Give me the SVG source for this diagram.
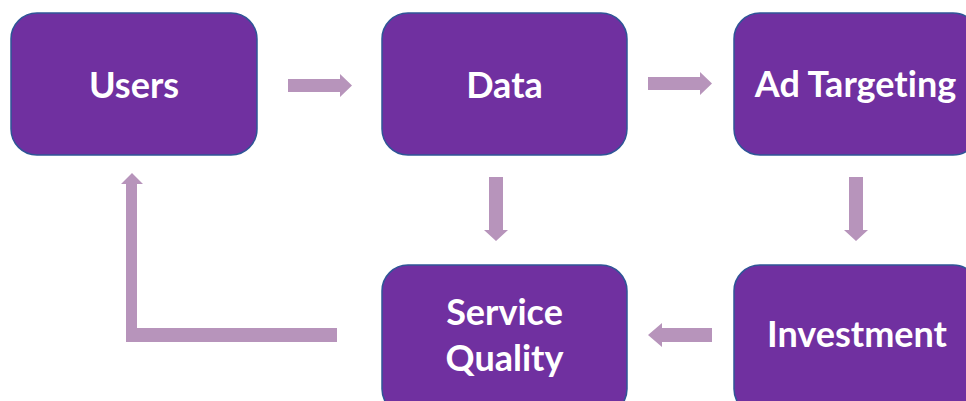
<svg xmlns="http://www.w3.org/2000/svg" width="966" height="401" viewBox="0 0 966 401">
<style>
.box{fill:#7030A0;stroke:#2F5597;stroke-width:1.5}
.lbl{fill:#FFFFFF;font-family:"Lato","Open Sans","Liberation Sans",sans-serif;font-weight:bold;font-size:36px;text-anchor:middle;font-variant-ligatures:none}
.arr{fill:#B794BB}
</style>
<rect width="966" height="401" fill="#FFFFFF"/>
<g id="users"><rect class="box" x="11" y="13" width="246" height="142" rx="26"/><text class="lbl" x="134" y="98">Users</text></g>
<g id="data"><rect class="box" x="382" y="13" width="245" height="142" rx="26"/><text class="lbl" x="504.5" y="98">Data</text></g>
<g id="adtargeting"><rect class="box" x="734" y="13" width="245" height="142" rx="26"/><text class="lbl" x="855.5" y="97">Ad Targeting</text></g>
<g id="servicequality"><rect class="box" x="382" y="265" width="245" height="150" rx="26"/><text class="lbl" x="504.5" y="325">Service</text><text class="lbl" x="504.5" y="371">Quality</text></g>
<g id="investment"><rect class="box" x="734" y="265" width="245" height="150" rx="26"/><text class="lbl" x="857" y="347">Investment</text></g>
<g id="connectors">
<polygon class="arr" points="288,79 340,79 340,74 352,85.5 340,97 340,92 288,92"/>
<polygon class="arr" points="648,77 700,77 700,72 712,83.5 700,95 700,90 648,90"/>
<polygon class="arr" points="489,177 503,177 503,230 508,230 496,241 484,230 489,230"/>
<polygon class="arr" points="849,177 863,177 863,230 868,230 856,241 844,230 849,230"/>
<polygon class="arr" points="712,328 662,328 662,323 648,335 662,347 662,342 712,342"/>
<polygon class="arr" points="337,328 337,342 126,342 126,184 121,184 132,173 143,184 137,184 137,328"/>
</g>
</svg>
